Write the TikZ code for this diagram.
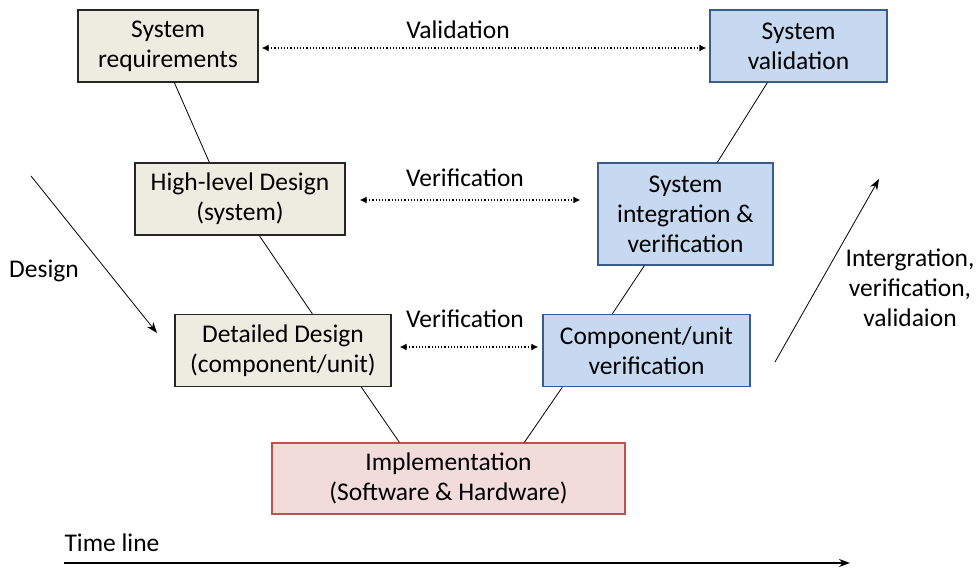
\documentclass[tikz,border=0pt]{standalone}
\usepackage{fontspec}
\setmainfont{Carlito}
\usetikzlibrary{arrows.meta}
\definecolor{beigefill}{HTML}{EEECE1}
\definecolor{bluefill}{HTML}{C6D9F1}
\definecolor{blueline}{HTML}{385D8A}
\definecolor{pinkfill}{HTML}{F2DCDB}
\definecolor{redline}{HTML}{C0504D}
\tikzset{
  box/.style={draw, line width=1.3pt, align=center, font=\fontsize{25.5}{30}\selectfont, inner sep=0pt},
  design/.style={box, fill=beigefill, draw=black!85},
  check/.style={box, fill=bluefill, draw=blueline},
  impl/.style={box, fill=pinkfill, draw=redline},
  lbl/.style={align=center, font=\fontsize{25.5}{30}\selectfont, inner sep=0pt},
  link/.style={line width=0.8pt},
  dotarrow/.style={line width=1.2pt, dotted, {Latex[length=7pt,width=7pt]}-{Latex[length=7pt,width=7pt]}},
  flow/.style={line width=0.8pt, -{Stealth[length=11pt,width=8pt]}},
}
\begin{document}
\begin{tikzpicture}[x=1pt,y=-1pt]
\useasboundingbox (0,0) rectangle (979,572);
% boxes
\node[design, minimum width=180pt, minimum height=72pt] (sr) at (168,46) {System\\requirements};
\node[check, minimum width=177pt, minimum height=72pt] (sv) at (798.5,46) {System\\validation};
\node[design, minimum width=210pt, minimum height=72pt] (hld) at (240,199) {High-level Design\\(system)};
\node[check, minimum width=175pt, minimum height=102pt] (siv) at (685.5,214) {System\\integration \&\\verification};
\node[design, minimum width=216pt, minimum height=72pt] (dd) at (283,350.5) {Detailed Design\\(component/unit)};
\node[check, minimum width=207pt, minimum height=72pt] (cuv) at (646.5,350.5) {Component/unit\\verification};
\node[impl, minimum width=353pt, minimum height=71pt] (im) at (448.5,478.5) {Implementation\\(Software \& Hardware)};
% V links
\draw[link] ([xshift=97pt]sr.south west) -- ([xshift=75pt]hld.north west);
\draw[link] ([xshift=125pt]hld.south west) -- ([xshift=138pt]dd.north west);
\draw[link] ([xshift=187pt]dd.south west) -- ([xshift=128pt]im.north west);
\draw[link] ([xshift=253pt]im.north west) -- ([xshift=20pt]cuv.south west);
\draw[link] ([xshift=70pt]cuv.north west) -- ([xshift=47pt]siv.south west);
\draw[link] ([xshift=120pt]siv.north west) -- ([xshift=58pt]sv.south west);
% dotted arrows
\draw[dotarrow] ([xshift=3pt,yshift=-2pt]sr.east) -- ([xshift=-3pt,yshift=-2pt]sv.west);
\node[lbl] (v1) at (458,30) {Validation};
\draw[dotarrow] ([xshift=14pt,yshift=-1pt]hld.east) -- ([xshift=-17pt,yshift=14pt]siv.west);
\node[lbl] (v2) at (465,178) {Verification};
\draw[dotarrow] ([xshift=8pt,yshift=3.5pt]dd.east) -- ([xshift=-4pt,yshift=3.5pt]cuv.west);
\node[lbl] (v3) at (465,319) {Verification};
% side arrows
\coordinate (ds) at (31,176); \coordinate (de) at (157,333);
\draw[flow] (ds) -- (de);
\node[lbl] (dl) at (44,271) {Design};
\coordinate (us) at (775,362); \coordinate (ue) at (879,179);
\draw[flow] (us) -- (ue);
\node[lbl] (ul) at (910,288) {Intergration,\\verification,\\validaion};
% time line
\coordinate (ts) at (64,563); \coordinate (te) at (850,563);
\draw[flow, line width=1.2pt] (ts) -- (te);
\node[lbl] (tl) at (112,543) {Time line};
\end{tikzpicture}
\end{document}
